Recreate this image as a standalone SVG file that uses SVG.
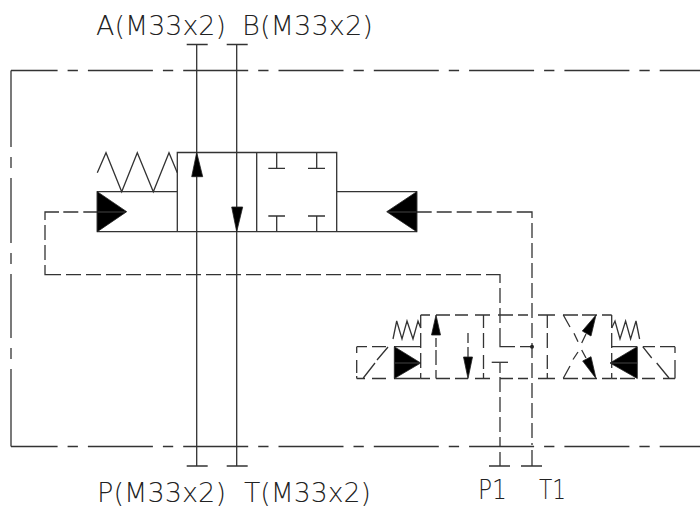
<svg xmlns="http://www.w3.org/2000/svg" width="700" height="510" viewBox="0 0 700 510">
<style>
.l{fill:none;stroke:#333;stroke-width:1.3}
.d{fill:none;stroke:#333;stroke-width:1.3;stroke-dasharray:15 5}
.c{fill:none;stroke:#333;stroke-width:1.3;stroke-dasharray:65 10 10.300 10;stroke-dashoffset:18.400}
.f{fill:#000;stroke:#222;stroke-width:.8}
.g{fill:none;stroke:#444;stroke-width:1}
text{font-family:"DejaVu Sans",sans-serif;font-size:26px;fill:#222;font-weight:200}
</style>
<rect width="700" height="510" fill="#fff"/>
<g id="connectors">
<path class="c" d="M11 70.500H700M11 446.500H700"/>
<path class="l" d="M11 70.500V147M11 157V168M11 178V243M11 253V264M11 274V338M11 348V359M11 369V446.500"/>
<path class="l" d="M196.700 44.500V466M236.700 44.500V466M186.700 44.500H207.700M226.700 44.500H247.700M186.700 466H207.700M226.700 466H247.700"/>
<path class="l" d="M45 220V212H59M45 265V274.700H61M486 274.700H500V283M516.700 212H532V218"/>
<path class="d" d="M63.300 212H98M45 225V265M66 274.700H486M500 288V328M416.700 212H516.700M532 223V445"/>
<path class="l" d="M500 328V346.700H515M520 346.700H532M532 450V466M500 452V466M489 466H510M521 466H542"/>
<path class="l" d="M500 363V373M500 377V392M500 397V412M500 417V432M500 437V447"/>
</g>
<g id="main-valve">
<path class="l" d="M177.300 152.500H336.700V231.700H177.300ZM256.700 152.500V231.700M177.300 191.700H97.300V231.700H177.300M336.700 191.700H416.700V231.700H336.700"/>
<path class="l" d="M97.300 172.700L106 152.700L121.700 191.700L137.300 152.700L153.300 191.700L169 152.700L177.300 172.700"/>
<path class="l" d="M276.700 152.500V168.300M268.300 168.300H285M316.700 152.500V168.300M308 168.300H325M276.700 231.700V216M268.300 216H285M316.700 231.700V216M308 216H325"/>
<path class="f" d="M196.700 152.500L202.700 176.700H191.700ZM236.700 231.700L242.700 207H231.700ZM97.300 191.700L126.700 211.700L97.300 231.700ZM416.700 191.700L386.700 211.700L416.700 231.700Z"/>
<path class="g" d="M98 212H125M388 212H416"/>
</g>
<g id="pilot-valve">
<path class="l" d="M420.700 315H430M436 315H450M455 315H468M475 315H490M498 315H513M518 315H528M538 315H555M563 315H578M582 315H597M602 315H611.700"/>
<path class="l" d="M420.700 378.500H430M436 378.500H450M455 378.500H468M475 378.500H490M500 378.500H513M518 378.500H528M538 378.500H555M563 378.500H578M582 378.500H597M602 378.500H611.700"/>
<path class="l" d="M420.700 315V328M420.700 333V348M420.700 353V368M420.700 373V378.500M483.500 315V328M483.500 333V348M483.500 355V369M483.500 373V378.500M547.300 315V328M547.300 333V348M547.300 355V369M547.300 373V378.500M611.700 315V328M611.700 333V348M611.700 353V368M611.700 373V378.500"/>
<path class="l" d="M356.700 346.700H367M372 346.700H386M394 346.700H420.700M356.700 378.500H365M372 378.500H386M394 378.500H420.700M356.700 346.700V353M356.700 360V373M356.700 376V378.500M675 346.700V353M675 360V378.500M611.700 346.700H637M643 346.700H655M660 346.700H675M611.700 378.500H617M620 378.500H635M642 378.500H655M663 378.500H675"/>
<path class="f" d="M394.300 346.700L420.700 363L394.300 378.500ZM637.300 346.700L610 363L637.300 378.500ZM436 315L440.500 335H431.500ZM468 378.500L472.500 357H463.500ZM596 315L582.300 331L591 336ZM596 378.500L582.700 361L591 356.700Z"/>
<path class="g" d="M395 363H420M611 363H637"/>
<path class="l" d="M393 339L396.700 321L402 339L407 321L413 339L418 321L420.700 328M611.700 328L615 321L620 339L625.600 321L630.600 339L636 321L639.600 339"/>
<path class="l" d="M436 338V347M436 350V365M436 370V378.500M468 333V343M468 347V357"/>
<path class="l" d="M563.300 315L570 327M574 333.300L578 341.700M563.300 378.300L570 366M573 359.500L578 352M581.700 343L586 334M581.700 350L586 358"/>
<path class="l" d="M363.300 378L375 363M377 360L388 347M642.700 346.700L651.700 358M656.700 363L669 378"/>
<path class="l" d="M491.700 362.300H508"/>
<circle cx="532" cy="346.700" r="2" fill="#222"/>
</g>
<g id="labels">
<text x="96" y="35" textLength="130" lengthAdjust="spacingAndGlyphs">A(M33x2)</text>
<text x="242" y="35" textLength="131" lengthAdjust="spacingAndGlyphs">B(M33x2)</text>
<text x="97" y="502" textLength="129" lengthAdjust="spacingAndGlyphs">P(M33x2)</text>
<text x="244" y="502" textLength="127" lengthAdjust="spacingAndGlyphs">T(M33x2)</text>
<text x="478" y="499" textLength="29" lengthAdjust="spacingAndGlyphs">P1</text>
<text x="539" y="499" textLength="27" lengthAdjust="spacingAndGlyphs">T1</text>
</g>
</svg>
